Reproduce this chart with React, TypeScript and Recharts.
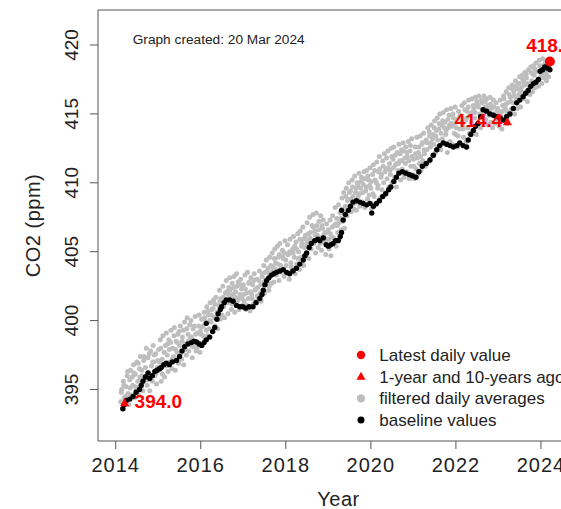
import {
    Legend,
    ReferenceArea,
    Scatter,
    ScatterChart,
    XAxis,
    YAxis,
} from "recharts";

type Pt = [number, number];

// filtered daily averages (grey)
const gray2014: Pt[] = [
    [2014.12, 394.1], [2014.14, 395.0], [2014.16, 393.6], [2014.18, 395.6], [2014.2, 394.4], [2014.22, 393.9],
    [2014.25, 395.2], [2014.27, 396.0], [2014.29, 394.7], [2014.31, 393.9], [2014.33, 395.7], [2014.35, 396.4],
    [2014.37, 394.6], [2014.4, 395.3], [2014.42, 396.8], [2014.44, 394.4], [2014.46, 396.1], [2014.48, 395.0],
    [2014.5, 397.0], [2014.52, 395.6], [2014.54, 394.6], [2014.56, 396.5], [2014.58, 397.4], [2014.6, 395.2],
    [2014.62, 396.0], [2014.64, 394.9], [2014.66, 397.1], [2014.68, 395.7], [2014.7, 396.6], [2014.72, 398.0],
    [2014.74, 395.3], [2014.76, 397.3], [2014.78, 396.2], [2014.8, 394.9], [2014.82, 397.8], [2014.84, 396.7],
    [2014.86, 395.6], [2014.88, 398.2], [2014.9, 397.0], [2014.92, 396.0], [2014.94, 397.6], [2014.96, 395.4],
    [2014.98, 396.6],
    [2014.13, 394.8], [2014.19, 395.3], [2014.23, 394.5], [2014.28, 396.3], [2014.34, 395.1], [2014.39, 395.9],
    [2014.43, 396.2], [2014.47, 395.2], [2014.53, 396.9], [2014.57, 395.9], [2014.61, 396.4], [2014.67, 397.4],
    [2014.71, 396.0], [2014.75, 395.7], [2014.79, 397.6], [2014.83, 396.0], [2014.87, 397.0], [2014.91, 397.5],
    [2014.95, 396.2], [2014.99, 397.1],
];
const gray2015: Pt[] = [
    [2015.01, 397.9], [2015.03, 396.4], [2015.05, 398.6], [2015.07, 395.6], [2015.09, 397.2], [2015.11, 398.9],
    [2015.13, 396.8], [2015.15, 395.9], [2015.17, 398.2], [2015.19, 399.1], [2015.21, 397.5], [2015.23, 396.3],
    [2015.25, 398.6], [2015.27, 397.0], [2015.3, 399.3], [2015.32, 396.5], [2015.34, 398.0], [2015.36, 397.4],
    [2015.38, 399.5], [2015.4, 396.4], [2015.42, 398.5], [2015.44, 397.7], [2015.46, 399.0], [2015.48, 396.9],
    [2015.5, 398.2], [2015.52, 399.6], [2015.55, 397.2], [2015.57, 398.8], [2015.6, 396.8], [2015.62, 399.9],
    [2015.64, 398.3], [2015.66, 397.5], [2015.68, 400.2], [2015.7, 399.0], [2015.72, 397.8], [2015.75, 398.7],
    [2015.77, 400.0], [2015.8, 397.3], [2015.82, 399.4], [2015.84, 398.2], [2015.87, 400.3], [2015.89, 397.8],
    [2015.92, 399.1], [2015.94, 398.4], [2015.96, 400.4], [2015.98, 397.7],
    [2015.02, 397.0], [2015.06, 398.0], [2015.1, 396.1], [2015.14, 397.7], [2015.18, 396.7], [2015.22, 398.3],
    [2015.26, 397.9], [2015.29, 398.4], [2015.33, 397.2], [2015.37, 398.9], [2015.41, 397.9], [2015.45, 398.4],
    [2015.49, 399.2], [2015.53, 397.6], [2015.56, 398.5], [2015.59, 399.3], [2015.63, 397.9], [2015.67, 399.4],
    [2015.71, 398.5], [2015.74, 399.7], [2015.78, 398.8], [2015.81, 398.1], [2015.85, 399.6], [2015.88, 399.0],
    [2015.91, 398.0], [2015.95, 399.6], [2015.99, 399.2],
];
const gray2016: Pt[] = [
    [2016.0, 399.0], [2016.02, 400.1], [2016.04, 398.2], [2016.06, 399.6], [2016.08, 400.6], [2016.1, 398.7],
    [2016.12, 399.9], [2016.14, 401.0], [2016.16, 398.9], [2016.18, 400.4], [2016.2, 399.4], [2016.22, 401.3],
    [2016.24, 399.9], [2016.26, 400.8], [2016.28, 399.3], [2016.3, 401.5], [2016.32, 400.2], [2016.34, 399.6],
    [2016.36, 401.7], [2016.38, 400.6], [2016.4, 399.4], [2016.42, 401.1], [2016.44, 402.2], [2016.46, 400.1],
    [2016.48, 401.6], [2016.5, 400.4], [2016.52, 402.5], [2016.54, 401.0], [2016.56, 400.2], [2016.58, 402.0],
    [2016.6, 402.9], [2016.62, 401.3], [2016.64, 400.5], [2016.66, 402.4], [2016.68, 403.1], [2016.7, 401.7],
    [2016.72, 400.8], [2016.74, 402.7], [2016.76, 401.9], [2016.78, 403.2], [2016.8, 400.6], [2016.82, 402.1],
    [2016.84, 403.4], [2016.86, 401.4], [2016.88, 402.8], [2016.9, 400.8], [2016.92, 401.9], [2016.94, 403.0],
    [2016.96, 402.3], [2016.98, 401.1],
    [2016.01, 399.5], [2016.05, 398.9], [2016.09, 400.2], [2016.13, 399.3], [2016.17, 400.7], [2016.21, 400.0],
    [2016.25, 400.4], [2016.29, 400.9], [2016.33, 401.2], [2016.37, 400.3], [2016.41, 400.6], [2016.45, 401.4],
    [2016.49, 400.9], [2016.53, 401.7], [2016.57, 401.4], [2016.61, 402.1], [2016.65, 401.9], [2016.69, 402.2],
    [2016.73, 401.2], [2016.77, 402.4], [2016.81, 401.7], [2016.85, 402.5], [2016.89, 401.6], [2016.93, 402.6],
    [2016.97, 401.6],
];
const gray2017: Pt[] = [
    [2017.0, 402.6], [2017.02, 401.4], [2017.04, 403.3], [2017.06, 400.8], [2017.08, 402.0], [2017.1, 403.5],
    [2017.12, 401.6], [2017.14, 402.8], [2017.16, 400.7], [2017.18, 403.1], [2017.2, 401.9], [2017.22, 402.6],
    [2017.24, 401.2], [2017.26, 403.4], [2017.28, 402.2], [2017.3, 401.4], [2017.32, 403.0], [2017.34, 402.4],
    [2017.36, 401.6], [2017.38, 403.6], [2017.4, 402.0], [2017.42, 401.4], [2017.44, 403.2], [2017.46, 402.6],
    [2017.48, 404.0], [2017.5, 402.0], [2017.52, 403.5], [2017.54, 404.4], [2017.56, 402.6], [2017.58, 403.8],
    [2017.6, 402.2], [2017.62, 404.6], [2017.64, 403.2], [2017.66, 402.7], [2017.68, 404.9], [2017.7, 403.9],
    [2017.72, 402.8], [2017.74, 405.2], [2017.76, 404.2], [2017.78, 403.3], [2017.8, 405.4], [2017.82, 404.6],
    [2017.84, 402.9], [2017.86, 405.6], [2017.88, 404.0], [2017.9, 403.5], [2017.92, 405.1], [2017.94, 404.5],
    [2017.96, 403.2], [2017.98, 405.8],
    [2017.01, 401.9], [2017.05, 402.3], [2017.09, 401.1], [2017.13, 402.7], [2017.17, 402.1], [2017.21, 401.6],
    [2017.25, 402.9], [2017.29, 402.3], [2017.33, 401.8], [2017.37, 402.9], [2017.41, 402.6], [2017.45, 403.4],
    [2017.49, 402.8], [2017.53, 403.0], [2017.57, 403.5], [2017.61, 402.5], [2017.65, 404.0], [2017.69, 403.6],
    [2017.73, 404.5], [2017.77, 403.7], [2017.81, 404.1], [2017.85, 404.8], [2017.89, 403.7], [2017.93, 404.6],
    [2017.97, 404.9],
];
const gray2018: Pt[] = [
    [2018.0, 404.4], [2018.02, 403.4], [2018.04, 405.5], [2018.06, 404.8], [2018.08, 403.0], [2018.1, 405.9],
    [2018.12, 404.2], [2018.14, 403.6], [2018.16, 405.2], [2018.18, 406.1], [2018.2, 404.6], [2018.22, 403.4],
    [2018.24, 405.7], [2018.26, 404.1], [2018.28, 406.3], [2018.3, 405.0], [2018.32, 403.7], [2018.34, 406.5],
    [2018.36, 404.6], [2018.38, 405.6], [2018.4, 406.8], [2018.42, 404.0], [2018.44, 405.3], [2018.46, 406.2],
    [2018.48, 404.8], [2018.5, 407.1], [2018.52, 405.8], [2018.54, 404.5], [2018.56, 407.5], [2018.58, 406.4],
    [2018.6, 405.2], [2018.62, 406.9], [2018.64, 407.7], [2018.66, 405.6], [2018.68, 406.5], [2018.7, 404.9],
    [2018.72, 407.8], [2018.74, 406.2], [2018.76, 405.3], [2018.78, 407.2], [2018.8, 406.0], [2018.82, 407.6],
    [2018.84, 405.1], [2018.86, 406.7], [2018.88, 407.3], [2018.9, 405.7], [2018.92, 406.4], [2018.94, 404.8],
    [2018.96, 407.0], [2018.98, 405.9],
    [2018.01, 404.0], [2018.05, 404.8], [2018.09, 405.0], [2018.13, 403.9], [2018.17, 404.9], [2018.21, 405.4],
    [2018.25, 405.2], [2018.29, 404.5], [2018.33, 405.9], [2018.37, 405.4], [2018.41, 405.9], [2018.45, 406.0],
    [2018.49, 405.6], [2018.53, 406.3], [2018.57, 406.0], [2018.61, 405.8], [2018.65, 406.8], [2018.69, 406.2],
    [2018.73, 406.9], [2018.77, 406.6], [2018.81, 405.6], [2018.85, 406.9], [2018.89, 406.2], [2018.93, 405.9],
    [2018.97, 406.4],
];
const gray2019: Pt[] = [
    [2019.0, 406.6], [2019.02, 405.2], [2019.04, 407.3], [2019.06, 404.7], [2019.08, 406.1], [2019.1, 407.6],
    [2019.12, 405.6], [2019.14, 406.9], [2019.16, 408.2], [2019.18, 405.4], [2019.2, 407.4], [2019.22, 406.4],
    [2019.24, 408.4], [2019.26, 405.9], [2019.28, 407.8], [2019.3, 406.6], [2019.32, 408.9], [2019.34, 407.2],
    [2019.36, 409.3], [2019.38, 406.7], [2019.4, 408.3], [2019.42, 409.6], [2019.44, 407.6], [2019.46, 408.8],
    [2019.48, 410.0], [2019.5, 408.2], [2019.52, 409.4], [2019.54, 407.9], [2019.56, 410.2], [2019.58, 409.0],
    [2019.6, 408.1], [2019.62, 410.5], [2019.64, 409.3], [2019.66, 408.0], [2019.68, 410.0], [2019.7, 409.0],
    [2019.72, 410.7], [2019.74, 408.3], [2019.76, 409.6], [2019.78, 410.4], [2019.8, 408.6], [2019.82, 409.9],
    [2019.84, 410.8], [2019.86, 408.2], [2019.88, 409.4], [2019.9, 410.9], [2019.92, 408.8], [2019.94, 410.2],
    [2019.96, 409.1], [2019.98, 411.1],
    [2019.01, 405.9], [2019.05, 406.3], [2019.09, 406.8], [2019.13, 406.0], [2019.17, 407.0], [2019.21, 406.9],
    [2019.25, 407.1], [2019.29, 407.4], [2019.33, 408.1], [2019.37, 407.8], [2019.41, 409.0], [2019.45, 408.7],
    [2019.49, 409.3], [2019.53, 408.8], [2019.57, 409.7], [2019.61, 408.5], [2019.65, 409.6], [2019.69, 409.8],
    [2019.73, 409.2], [2019.77, 410.1], [2019.81, 409.3], [2019.85, 410.3], [2019.89, 409.7], [2019.93, 410.5],
    [2019.97, 409.8],
];
const gray2020: Pt[] = [
    [2020.0, 409.6], [2020.02, 408.1], [2020.04, 410.6], [2020.06, 411.3], [2020.08, 409.0], [2020.1, 410.2],
    [2020.12, 408.4], [2020.14, 411.5], [2020.16, 409.6], [2020.18, 410.8], [2020.2, 411.9], [2020.22, 408.9],
    [2020.24, 410.4], [2020.26, 409.5], [2020.28, 411.6], [2020.3, 410.0], [2020.32, 412.1], [2020.34, 409.3],
    [2020.36, 411.0], [2020.38, 410.3], [2020.4, 412.3], [2020.42, 409.7], [2020.44, 411.4], [2020.46, 410.6],
    [2020.48, 412.5], [2020.5, 410.0], [2020.52, 411.7], [2020.54, 412.6], [2020.56, 410.4], [2020.58, 411.3],
    [2020.6, 409.7], [2020.62, 412.2], [2020.64, 410.9], [2020.66, 412.8], [2020.68, 411.6], [2020.7, 410.2],
    [2020.72, 412.4], [2020.74, 411.0], [2020.76, 412.9], [2020.78, 410.4], [2020.8, 411.8], [2020.82, 412.6],
    [2020.84, 410.8], [2020.86, 411.9], [2020.88, 413.0], [2020.9, 410.3], [2020.92, 412.3], [2020.94, 411.2],
    [2020.96, 413.2], [2020.98, 410.6],
    [2020.01, 410.1], [2020.05, 409.2], [2020.09, 410.9], [2020.13, 410.0], [2020.17, 409.8], [2020.21, 411.0],
    [2020.25, 410.6], [2020.29, 411.2], [2020.33, 410.8], [2020.37, 411.8], [2020.41, 411.1], [2020.45, 410.9],
    [2020.49, 411.9], [2020.53, 411.1], [2020.57, 412.0], [2020.61, 411.4], [2020.65, 411.4], [2020.69, 412.1],
    [2020.73, 411.6], [2020.77, 412.3], [2020.81, 411.4], [2020.85, 412.2], [2020.89, 411.6], [2020.93, 412.7],
    [2020.97, 411.9],
];
const gray2021: Pt[] = [
    [2021.0, 411.7], [2021.02, 410.3], [2021.04, 412.6], [2021.06, 411.0], [2021.08, 413.3], [2021.1, 410.6],
    [2021.12, 412.2], [2021.14, 411.4], [2021.16, 413.4], [2021.18, 410.9], [2021.2, 412.8], [2021.22, 411.6],
    [2021.24, 413.6], [2021.26, 412.1], [2021.28, 411.2], [2021.3, 413.1], [2021.32, 412.4], [2021.34, 414.0],
    [2021.36, 411.5], [2021.38, 413.4], [2021.4, 412.6], [2021.42, 414.2], [2021.44, 411.9], [2021.46, 413.5],
    [2021.48, 412.8], [2021.5, 414.5], [2021.52, 412.2], [2021.54, 413.8], [2021.56, 414.7], [2021.58, 412.6],
    [2021.6, 413.9], [2021.62, 415.0], [2021.64, 412.4], [2021.66, 414.2], [2021.68, 413.2], [2021.7, 415.1],
    [2021.72, 412.9], [2021.74, 414.4], [2021.76, 413.5], [2021.78, 415.3], [2021.8, 412.2], [2021.82, 414.0],
    [2021.84, 414.9], [2021.86, 413.0], [2021.88, 415.4], [2021.9, 414.1], [2021.92, 412.8], [2021.94, 414.7],
    [2021.96, 413.6], [2021.98, 415.5],
    [2021.01, 411.2], [2021.05, 412.1], [2021.09, 411.8], [2021.13, 412.6], [2021.17, 411.9], [2021.21, 412.9],
    [2021.25, 412.4], [2021.29, 413.0], [2021.33, 412.9], [2021.37, 413.7], [2021.41, 412.9], [2021.45, 413.2],
    [2021.49, 414.0], [2021.53, 413.4], [2021.57, 413.1], [2021.61, 414.3], [2021.65, 413.6], [2021.69, 414.5],
    [2021.73, 414.0], [2021.77, 413.8], [2021.81, 414.6], [2021.85, 414.2], [2021.89, 414.3], [2021.93, 415.0],
    [2021.97, 414.3],
];
const gray2022: Pt[] = [
    [2022.0, 413.5], [2022.02, 414.6], [2022.04, 412.6], [2022.06, 415.2], [2022.08, 413.9], [2022.1, 414.9],
    [2022.12, 412.8], [2022.14, 415.6], [2022.16, 414.2], [2022.18, 413.3], [2022.2, 415.8], [2022.22, 414.5],
    [2022.24, 413.0], [2022.26, 415.2], [2022.28, 414.0], [2022.3, 416.0], [2022.32, 413.6], [2022.34, 415.0],
    [2022.36, 414.4], [2022.38, 416.1], [2022.4, 413.8], [2022.42, 415.4], [2022.44, 414.7], [2022.46, 416.2],
    [2022.48, 413.5], [2022.5, 415.7], [2022.52, 414.3], [2022.54, 416.3], [2022.56, 415.0], [2022.58, 414.0],
    [2022.6, 416.0], [2022.62, 415.3], [2022.64, 414.2], [2022.66, 416.3], [2022.68, 415.5], [2022.7, 414.6],
    [2022.72, 416.1], [2022.74, 414.2], [2022.76, 415.6], [2022.78, 414.9], [2022.8, 416.2], [2022.82, 414.4],
    [2022.84, 415.4], [2022.86, 414.0], [2022.88, 416.0], [2022.9, 415.0], [2022.92, 414.3], [2022.94, 415.8],
    [2022.96, 414.6], [2022.98, 415.4],
    [2022.01, 414.0], [2022.05, 413.4], [2022.09, 414.8], [2022.13, 414.4], [2022.17, 413.9], [2022.21, 415.3],
    [2022.25, 414.7], [2022.29, 415.5], [2022.33, 414.9], [2022.37, 415.1], [2022.41, 415.6], [2022.45, 415.1],
    [2022.49, 415.9], [2022.53, 415.5], [2022.57, 414.7], [2022.61, 415.8], [2022.65, 415.0], [2022.69, 415.9],
    [2022.73, 415.4], [2022.77, 415.2], [2022.81, 415.7], [2022.85, 415.0], [2022.89, 415.5], [2022.93, 414.8],
    [2022.97, 415.2],
];
const gray2023: Pt[] = [
    [2023.0, 415.2], [2023.02, 414.1], [2023.04, 416.0], [2023.06, 414.8], [2023.08, 413.9], [2023.1, 415.6],
    [2023.12, 416.3], [2023.14, 414.5], [2023.16, 415.4], [2023.18, 416.6], [2023.2, 414.3], [2023.22, 415.8],
    [2023.24, 416.9], [2023.26, 414.9], [2023.28, 416.2], [2023.3, 415.3], [2023.32, 417.1], [2023.34, 415.8],
    [2023.36, 416.6], [2023.38, 415.0], [2023.4, 417.4], [2023.42, 416.1], [2023.44, 415.4], [2023.46, 417.2],
    [2023.48, 416.4], [2023.5, 417.7], [2023.52, 415.5], [2023.54, 416.9], [2023.56, 417.8], [2023.58, 416.1],
    [2023.6, 417.3], [2023.62, 418.0], [2023.64, 416.5], [2023.66, 417.6], [2023.68, 415.9], [2023.7, 418.2],
    [2023.72, 417.0], [2023.74, 416.4], [2023.76, 418.4], [2023.78, 417.4], [2023.8, 416.6], [2023.82, 418.5],
    [2023.84, 417.8], [2023.86, 416.9], [2023.88, 418.7], [2023.9, 417.3], [2023.92, 418.1], [2023.94, 417.0],
    [2023.96, 418.9], [2023.98, 417.6],
    [2023.01, 414.6], [2023.05, 415.0], [2023.09, 415.2], [2023.13, 416.1], [2023.17, 415.7], [2023.21, 415.1],
    [2023.25, 416.4], [2023.29, 415.9], [2023.33, 416.8], [2023.37, 416.3], [2023.41, 417.0], [2023.45, 416.8],
    [2023.49, 417.2], [2023.53, 416.6], [2023.57, 417.5], [2023.61, 417.1], [2023.65, 417.9], [2023.69, 417.2],
    [2023.73, 416.9], [2023.77, 418.0], [2023.81, 417.9], [2023.85, 418.3], [2023.89, 418.1], [2023.93, 417.5],
    [2023.97, 418.5],
];
const gray2024: Pt[] = [
    [2024.0, 418.4], [2024.02, 417.2], [2024.04, 419.0], [2024.06, 418.0], [2024.08, 417.6], [2024.1, 418.7],
    [2024.12, 417.9], [2024.14, 418.9], [2024.16, 418.2], [2024.18, 417.7], [2024.2, 418.6],
    [2024.01, 417.8], [2024.05, 418.5], [2024.09, 418.2], [2024.13, 417.4], [2024.17, 418.9],
];

// baseline values (black)
const black2014: Pt[] = [
    [2014.17, 393.6], [2014.2, 393.9], [2014.25, 394.2], [2014.33, 394.3], [2014.41, 394.5], [2014.48, 394.8],
    [2014.56, 395.0], [2014.6, 395.3], [2014.64, 395.6], [2014.7, 395.9], [2014.76, 396.2], [2014.8, 395.8],
    [2014.86, 396.0], [2014.92, 396.3], [2014.97, 396.4],
];
const black2015: Pt[] = [
    [2015.03, 396.5], [2015.07, 396.6], [2015.13, 396.8], [2015.19, 396.9], [2015.26, 396.8], [2015.33, 397.0],
    [2015.43, 397.1], [2015.5, 397.4], [2015.56, 397.8], [2015.62, 398.1], [2015.7, 398.3], [2015.78, 398.4],
    [2015.84, 398.5], [2015.9, 398.45], [2015.96, 398.3],
];
const black2016: Pt[] = [
    [2016.02, 398.2], [2016.08, 398.4], [2016.13, 398.6], [2016.21, 398.8], [2016.13, 399.8], [2016.28, 399.2],
    [2016.33, 399.5], [2016.38, 400.1], [2016.41, 400.5], [2016.46, 400.8], [2016.49, 401.0], [2016.55, 401.3],
    [2016.6, 401.5], [2016.68, 401.5], [2016.76, 401.4], [2016.84, 401.1], [2016.92, 401.0], [2016.99, 401.0],
];
const black2017: Pt[] = [
    [2017.06, 400.9], [2017.14, 401.0], [2017.23, 401.0], [2017.3, 401.3], [2017.39, 401.6], [2017.44, 401.9],
    [2017.47, 402.2], [2017.51, 402.6], [2017.55, 402.9], [2017.6, 403.1], [2017.66, 403.3], [2017.72, 403.4],
    [2017.78, 403.5], [2017.86, 403.6], [2017.94, 403.7],
];
const black2018: Pt[] = [
    [2018.02, 403.5], [2018.09, 403.4], [2018.17, 403.6], [2018.25, 403.8], [2018.33, 404.1], [2018.41, 404.4],
    [2018.45, 404.7], [2018.49, 404.9], [2018.55, 405.3], [2018.6, 405.6], [2018.68, 405.8], [2018.75, 405.9],
    [2018.8, 405.8], [2018.88, 406.0], [2018.95, 405.5],
];
const black2019: Pt[] = [
    [2019.0, 405.4], [2019.06, 405.5], [2019.11, 405.6], [2019.17, 405.8], [2019.23, 405.8], [2019.28, 406.1],
    [2019.31, 406.4], [2019.35, 407.3], [2019.31, 408.0], [2019.4, 407.7], [2019.47, 408.0], [2019.52, 408.3],
    [2019.58, 408.6], [2019.66, 408.7], [2019.74, 408.6], [2019.82, 408.5], [2019.9, 408.4], [2019.98, 408.5],
];
const black2020: Pt[] = [
    [2020.02, 407.8], [2020.06, 408.3], [2020.13, 408.5], [2020.2, 408.7], [2020.28, 409.0], [2020.35, 409.2],
    [2020.42, 409.5], [2020.47, 409.7], [2020.54, 410.1], [2020.6, 410.4], [2020.66, 410.7], [2020.74, 410.8],
    [2020.82, 410.7], [2020.9, 410.6], [2020.98, 410.5],
];
const black2021: Pt[] = [
    [2021.06, 410.4], [2021.13, 410.8], [2021.21, 411.2], [2021.3, 411.4], [2021.39, 411.65], [2021.47, 412.0],
    [2021.55, 412.4], [2021.62, 412.7], [2021.7, 412.9], [2021.78, 412.8], [2021.86, 412.7], [2021.94, 412.6],
];
const black2022: Pt[] = [
    [2022.02, 412.7], [2022.09, 412.9], [2022.17, 412.7], [2022.25, 412.6], [2022.29, 413.1], [2022.35, 413.5],
    [2022.41, 413.8], [2022.46, 414.1], [2022.52, 414.3], [2022.58, 414.8], [2022.64, 415.3], [2022.72, 415.2],
    [2022.8, 415.0], [2022.88, 414.9], [2022.96, 414.8],
];
const black2023: Pt[] = [
    [2023.04, 414.7], [2023.11, 414.55], [2023.19, 414.8], [2023.27, 415.0], [2023.35, 415.4], [2023.43, 415.8],
    [2023.5, 416.0], [2023.58, 416.25], [2023.64, 416.5], [2023.7, 416.7], [2023.76, 417.0], [2023.82, 417.2],
    [2023.88, 417.3], [2023.94, 417.5], [2023.98, 418.1],
];
const black2024: Pt[] = [
    [2024.04, 418.2], [2024.09, 418.4], [2024.13, 418.4], [2024.17, 418.3], [2024.21, 418.2],
];

const latestValue: Pt[] = [[2024.21, 418.8]];
const agoValues: Pt[] = [[2014.21, 394.0], [2023.21, 414.4]];

const xTicks = [2014, 2016, 2018, 2020, 2022, 2024];
const yTicks = [395, 400, 405, 410, 415, 420];
const xDomain = [2013.584, 2024.894];
const yDomain = [391.26, 422.54];

const legendItems = [
    { label: "Latest daily value", color: "#ff0000", kind: "circle" },
    { label: "1-year and 10-years ago", color: "#ff0000", kind: "triangle" },
    { label: "filtered daily averages", color: "#bebebe", kind: "circle" },
    { label: "baseline values", color: "#000000", kind: "circle" },
];

const FONT = "'Liberation Sans', Arial, Helvetica, sans-serif";
const INK = "#222";

const toPts = (arrs: Pt[][]) => arrs.flat().map(([x, y]) => ({ x, y }));

const grayData = toPts([gray2014, gray2015, gray2016, gray2017, gray2018, gray2019, gray2020, gray2021, gray2022, gray2023, gray2024]);
const blackData = toPts([black2014, black2015, black2016, black2017, black2018, black2019, black2020, black2021, black2022, black2023, black2024]);
const latestData = toPts([latestValue]);
const agoData = toPts([agoValues]);

const GrayDot = (p: any) => <circle cx={p.cx} cy={p.cy} r={2.5} fill="#bebebe" />;
const BlackDot = (p: any) => <circle cx={p.cx} cy={p.cy} r={2.7} fill="#000" />;

const LatestDot = (p: any) => (
    <g>
        <circle cx={p.cx} cy={p.cy} r={5} fill="#ff0000" />
        <text x={p.cx} y={p.cy - 9.5} textAnchor="middle" fill="#ff0000" fontFamily={FONT} fontWeight="bold" fontSize={19}>
            {p.payload.y.toFixed(1)}
        </text>
    </g>
);

const AgoMark = (p: any) => {
    const right = p.payload.x < 2019; // 10-year mark gets its label on the right
    return (
        <g>
            <path d={`M${p.cx},${p.cy - 5} L${p.cx - 4.5},${p.cy + 3} L${p.cx + 4.5},${p.cy + 3} Z`} fill="#ff0000" />
            <text
                x={right ? p.cx + 10 : p.cx - 5}
                y={p.cy + 4.5}
                textAnchor={right ? "start" : "end"}
                fill="#ff0000"
                fontFamily={FONT}
                fontWeight="bold"
                fontSize={19}
            >
                {p.payload.y.toFixed(1)}
            </text>
        </g>
    );
};

const XTick = ({ x, y, payload }: any) => (
    <text x={x} y={y + 21} textAnchor="middle" fill={INK} fontFamily={FONT} fontSize={20} letterSpacing={1}>
        {payload.value}
    </text>
);

const YTick = ({ x, y, payload }: any) => (
    <text transform={`translate(${x - 9.7},${y}) rotate(-90)`} textAnchor="middle" fill={INK} fontFamily={FONT} fontSize={19}>
        {payload.value}
    </text>
);

const XLabel = (p: any) => (
    <text x={p.viewBox.x + p.viewBox.width / 2} y={506} textAnchor="middle" fill={INK} fontFamily={FONT} fontSize={20} letterSpacing={0.5}>
        Year
    </text>
);

const YLabel = (p: any) => (
    <text transform={`translate(40,${p.viewBox.y + p.viewBox.height / 2}) rotate(-90)`} textAnchor="middle" fill={INK} fontFamily={FONT} fontSize={20} letterSpacing={0.5}>
        CO2 (ppm)
    </text>
);

const CreatedNote = (p: any) => (
    <text x={p.viewBox.x + 34.7} y={p.viewBox.y + 34} fill={INK} fontFamily={FONT} fontSize={13.7}>
        Graph created: 20 Mar 2024
    </text>
);

const LegendBox = () => (
    <svg width={230} height={90} style={{ display: "block" }}>
        {legendItems.map((item, i) => {
            const cy = 12 + i * 21.7;
            return (
                <g key={item.label}>
                    {item.kind === "triangle" ? (
                        <path d={`M9,${cy - 5} L4.5,${cy + 3} L13.5,${cy + 3} Z`} fill={item.color} />
                    ) : (
                        <circle cx={9} cy={cy} r={item.color === "#000000" ? 3.5 : 4.2} fill={item.color} />
                    )}
                    <text x={27.3} y={cy + 6} fill={INK} fontFamily={FONT} fontSize={17}>
                        {item.label}
                    </text>
                </g>
            );
        })}
    </svg>
);

export default function App() {
    return (
        <div style={{ position: "absolute", left: 0, top: 0, width: 561, height: 509, overflow: "hidden", background: "#fff" }}>
            <ScatterChart width={600} height={509} margin={{ top: 10, right: 21, bottom: 0, left: 0 }}>
                <XAxis
                    type="number"
                    dataKey="x"
                    domain={xDomain}
                    ticks={xTicks}
                    interval={0}
                    allowDataOverflow
                    height={68}
                    tickSize={8}
                    tickLine={{ stroke: "#555" }}
                    axisLine={false}
                    tick={XTick}
                    label={XLabel}
                />
                <YAxis
                    type="number"
                    dataKey="y"
                    domain={yDomain}
                    ticks={yTicks}
                    interval={0}
                    allowDataOverflow
                    width={98}
                    tickSize={8}
                    tickLine={{ stroke: "#555" }}
                    axisLine={false}
                    tick={YTick}
                    label={YLabel}
                />
                <ReferenceArea
                    x1={xDomain[0]}
                    x2={xDomain[1]}
                    y1={yDomain[0]}
                    y2={yDomain[1]}
                    fill="none"
                    stroke="#555"
                    strokeWidth={1}
                    label={CreatedNote}
                />
                <Scatter data={grayData} shape={GrayDot} isAnimationActive={false} />
                <Scatter data={blackData} shape={BlackDot} isAnimationActive={false} />
                <Scatter data={agoData} shape={AgoMark} isAnimationActive={false} />
                <Scatter data={latestData} shape={LatestDot} isAnimationActive={false} />
                <Legend
                    layout="vertical"
                    align="center"
                    verticalAlign="middle"
                    wrapperStyle={{ left: 352, top: 343, width: 230 }}
                    content={LegendBox}
                />
            </ScatterChart>
        </div>
    );
}
